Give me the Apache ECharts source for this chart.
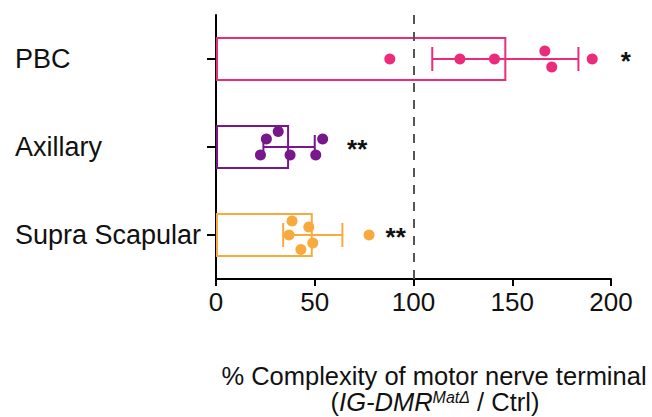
<!DOCTYPE html>
<html>
<head>
<meta charset="utf-8">
<script src="https://cdn.jsdelivr.net/npm/echarts@6/dist/echarts.min.js"></script>
<style>
  html, body { margin: 0; padding: 0; background: #fff; }
  #chart { width: 652px; height: 417px; }
</style>
</head>
<body>
<div id="chart"></div>
<script>
// categories from bottom to top (category axis index 0 sits at the bottom)
const categories = ['Supra Scapular', 'Axillary', 'PBC']
const means = [49, 37, 147]
const errLow = [34, 24, 109.5]
const errHigh = [64, 50, 183.5]

// individual points: [value, vertical jitter in category units]
const supraPoints = [[38.5, 0.16], [47, 0.09], [37, 0], [49, -0.09], [43, -0.165], [77.5, 0]]
const axillaryPoints = [[22.5, -0.09], [25.5, 0.09], [31.5, 0.175], [37.5, -0.09], [50.5, -0.09], [54, 0.09]]
const pbcPoints = [[88, 0], [123.5, 0], [141, 0], [166.5, 0.09], [170, -0.09], [190.5, 0]]
const groupPoints = [supraPoints, axillaryPoints, pbcPoints]

// significance marks and where they sit on the x scale
const sigMarks = ['**', '**', '*']
const sigX = [91, 71.5, 207.5]

const xMin = 0
const xMax = 200
const xStep = 50
const refLine = 100

const colors = ['#f9aa3e', '#78168b', '#ec2c7b']
const FONT = '"Liberation Sans", Arial, sans-serif'

const chart = echarts.init(document.getElementById('chart'), null, { renderer: 'svg' })

const scatterSeries = groupPoints.map((pts, i) => ({
  type: 'scatter',
  xAxisIndex: 0,
  yAxisIndex: 1,
  symbol: 'circle',
  symbolSize: 11,
  itemStyle: { color: colors[i], opacity: 1 },
  z: 5,
  data: pts.map(p => [p[0], i + 0.5 + p[1]])
}))

const option = {
  animation: false,
  textStyle: { fontFamily: FONT },
  grid: { left: 216, right: 41, top: 15, bottom: 138, containLabel: false },
  xAxis: {
    type: 'value',
    min: xMin,
    max: xMax,
    interval: xStep,
    axisLine: { show: true, lineStyle: { color: '#000', width: 2 } },
    axisTick: { show: true, length: 7, lineStyle: { color: '#000', width: 2 } },
    axisLabel: { fontSize: 26, color: '#111', margin: 10, fontFamily: FONT },
    splitLine: { show: false }
  },
  yAxis: [{
    type: 'category',
    data: categories,
    axisLine: { show: true, lineStyle: { color: '#000', width: 2 } },
    axisTick: { show: true, alignWithLabel: true, length: 9, lineStyle: { color: '#000', width: 2 } },
    axisLabel: { fontSize: 27, color: '#111', margin: 201, align: 'left', fontFamily: FONT },
    splitLine: { show: false }
  }, {
    type: 'value',
    min: 0,
    max: categories.length,
    show: false
  }],
  series: [{
    type: 'bar',
    barWidth: '50%',
    z: 2,
    data: means.map((v, i) => ({
      value: v,
      itemStyle: { color: 'rgba(255,255,255,0)', borderColor: colors[i], borderWidth: 2 }
    })),
    markLine: {
      silent: true,
      symbol: ['none', 'none'],
      label: { show: false },
      lineStyle: { color: '#555', type: [9, 8], width: 2 },
      data: [{ xAxis: refLine }]
    }
  }, {
    type: 'custom',
    z: 3,
    encode: { x: [1, 2], y: 0 },
    data: categories.map((c, i) => [i, errLow[i], errHigh[i]]),
    renderItem: function (params, api) {
      const idx = api.value(0)
      const lo = api.coord([api.value(1), idx])
      const hi = api.coord([api.value(2), idx])
      const cap = 12
      const style = { stroke: colors[idx], lineWidth: 2 }
      return {
        type: 'group',
        children: [
          { type: 'line', shape: { x1: lo[0], y1: lo[1], x2: hi[0], y2: hi[1] }, style },
          { type: 'line', shape: { x1: lo[0], y1: lo[1] - cap, x2: lo[0], y2: lo[1] + cap }, style },
          { type: 'line', shape: { x1: hi[0], y1: hi[1] - cap, x2: hi[0], y2: hi[1] + cap }, style }
        ]
      }
    }
  }].concat(scatterSeries, [{
    type: 'custom',
    yAxisIndex: 0,
    clip: false,
    z: 6,
    encode: { x: 0, y: 1 },
    data: sigMarks.map((m, i) => [sigX[i], i, m]),
    renderItem: function (params, api) {
      const p = api.coord([api.value(0), api.value(1)])
      return {
        type: 'text',
        x: p[0],
        y: p[1] + 2,
        style: {
          text: sigMarks[params.dataIndex],
          fill: '#111',
          fontSize: 26,
          fontWeight: 'bold',
          fontFamily: FONT,
          align: 'center',
          verticalAlign: 'middle'
        }
      }
    }
  }]),
  graphic: [{
    type: 'text',
    x: 434,
    y: 376,
    style: {
      text: '% Complexity of motor nerve terminal',
      fill: '#111',
      fontSize: 25.5,
      fontFamily: FONT,
      align: 'center',
      verticalAlign: 'middle'
    }
  }, {
    type: 'text',
    x: 435,
    y: 402,
    style: {
      text: '({i|IG-DMR}{sup|MatΔ}{n| / Ctrl)}',
      fill: '#111',
      fontSize: 25.5,
      fontFamily: FONT,
      align: 'center',
      verticalAlign: 'middle',
      rich: {
        i: { fontSize: 25.5, fontStyle: 'italic', fontFamily: FONT, fill: '#111', lineHeight: 24 },
        sup: { fontSize: 16, fontStyle: 'italic', fontFamily: FONT, fill: '#111', lineHeight: 12, verticalAlign: 'top' },
        n: { fontSize: 25.5, fontFamily: FONT, fill: '#111', lineHeight: 24 }
      }
    }
  }]
}

chart.setOption(option)
</script>
</body>
</html>
